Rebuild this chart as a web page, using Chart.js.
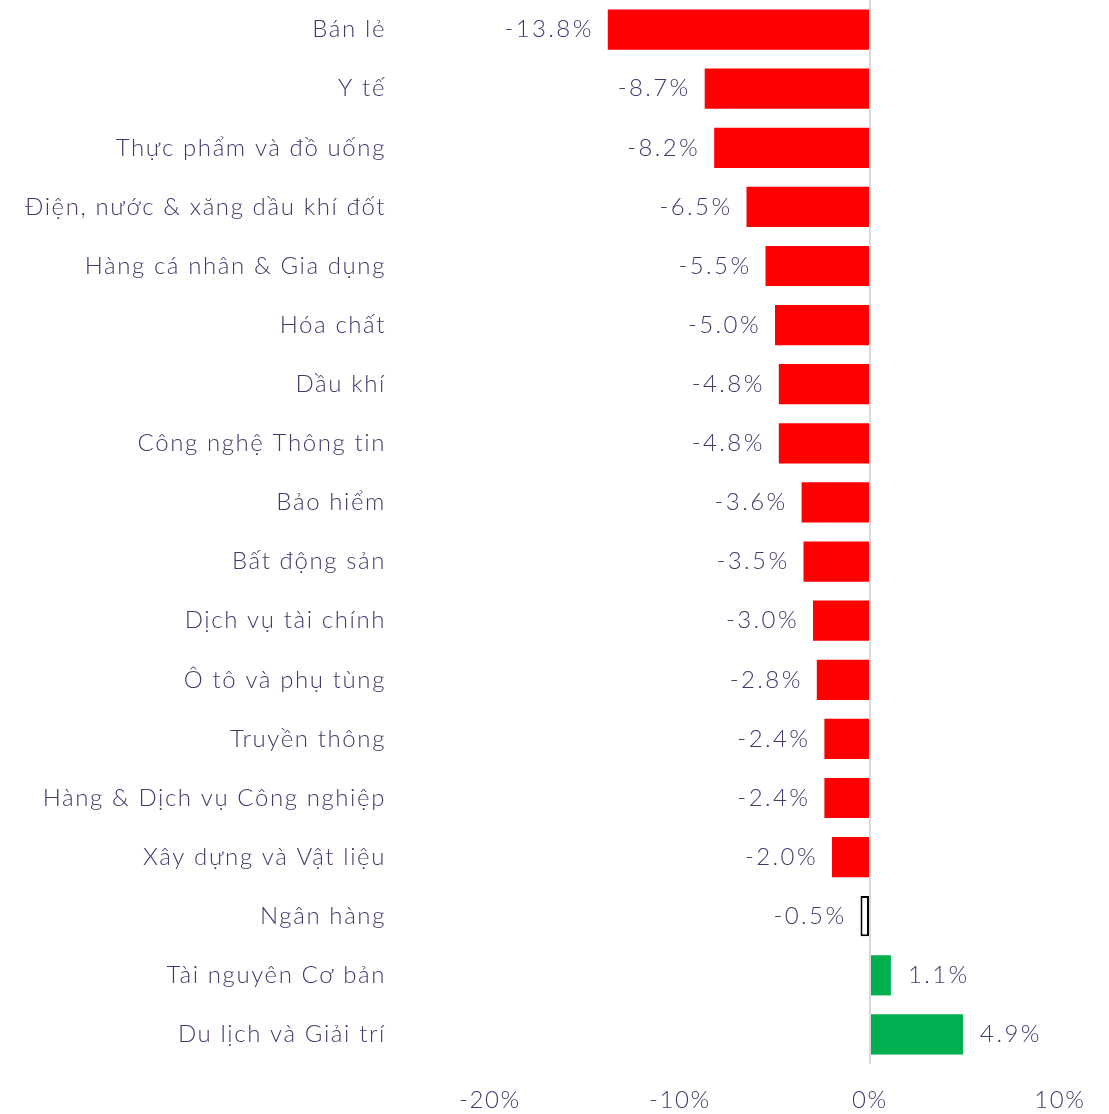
<!DOCTYPE html>
<html>
<head>
<meta charset="utf-8">
<script src="https://cdn.jsdelivr.net/npm/chart.js@4.4.1/dist/chart.umd.min.js"></script>
<style>
    body { margin: 0; background: #fff; }
    #wrap { width: 1109px; height: 1114px; position: relative; }
</style>
</head>
<body>
<div id="wrap"><canvas id="grafico"></canvas></div>
<script>
const nganh = [
    'Bán lẻ', 'Y tế', 'Thực phẩm và đồ uống', 'Điện, nước & xăng dầu khí đốt',
    'Hàng cá nhân & Gia dụng', 'Hóa chất', 'Dầu khí', 'Công nghệ Thông tin',
    'Bảo hiểm', 'Bất động sản', 'Dịch vụ tài chính', 'Ô tô và phụ tùng',
    'Truyền thông', 'Hàng & Dịch vụ Công nghiệp', 'Xây dựng và Vật liệu',
    'Ngân hàng', 'Tài nguyên Cơ bản', 'Du lịch và Giải trí'
];
const bienDong = [-13.8, -8.7, -8.2, -6.5, -5.5, -5.0, -4.8, -4.8, -3.6, -3.5, -3.0, -2.8, -2.4, -2.4, -2.0, -0.5, 1.1, 4.9];
const mocTruc = [-20, -10, 0, 10];

const corTexto = '#3f3b6c';
const corNeg = '#ff0000';
const corPos = '#00b050';

const mauCot = bienDong.map(v => v > 0 ? corPos : (v > -1 ? '#ffffff' : corNeg));
const vienCot = bienDong.map(v => (v < 0 && v > -1) ? '#000000' : 'rgba(0,0,0,0)');
const doDayVien = bienDong.map(v => (v < 0 && v > -1) ? 2 : 0);

// gian chu cho giong font goc
const gianChu = {
    id: 'gianChu',
    beforeDraw(chart) {
        chart.ctx.letterSpacing = '1.6px';
    }
};

// nhan gia tri canh cot
const nhanGiaTri = {
    id: 'nhanGiaTri',
    afterDatasetsDraw(chart) {
        const ctx = chart.ctx;
        const meta = chart.getDatasetMeta(0);
        ctx.save();
        ctx.font = '300 24px Lato';
        ctx.letterSpacing = '2.4px';
        ctx.fillStyle = corTexto;
        ctx.textBaseline = 'middle';
        meta.data.forEach((bar, i) => {
            const v = bienDong[i];
            const txt = v.toFixed(1) + '%';
            if (v < 0) {
                ctx.textAlign = 'right';
                ctx.fillText(txt, bar.x - 14, bar.y);
            } else {
                ctx.textAlign = 'left';
                ctx.fillText(txt, bar.x + 17, bar.y);
            }
        });
        ctx.restore();
    }
};

Chart.defaults.font.family = 'Lato';
Chart.defaults.font.weight = 300;
Chart.defaults.color = corTexto;

const ctx = document.getElementById('grafico').getContext('2d');
const grafico = new Chart(ctx, {
    type: 'bar',
    data: {
        labels: nganh,
        datasets: [{
            data: bienDong,
            backgroundColor: mauCot,
            borderColor: vienCot,
            borderWidth: doDayVien,
            borderSkipped: false,
            categoryPercentage: 1,
            barPercentage: 0.68
        }]
    },
    plugins: [gianChu, nhanGiaTri],
    options: {
        indexAxis: 'y',
        responsive: true,
        maintainAspectRatio: false,
        animation: false,
        layout: { padding: { top: 0, bottom: 0, left: 0, right: 49 } },
        plugins: {
            legend: { display: false },
            tooltip: { enabled: false }
        },
        scales: {
            x: {
                min: -20,
                max: 10,
                afterBuildTicks: (scale) => { scale.ticks = mocTruc.map(v => ({ value: v })); },
                afterFit: (scale) => {
                    scale.height = 50;
                    scale.paddingTop = 0;
                    scale.paddingBottom = 0;
                },
                ticks: {
                    font: { size: 24 },
                    padding: 22,
                    callback: (v) => v + '%'
                },
                grid: {
                    drawTicks: false,
                    lineWidth: 2,
                    color: (c) => c.tick && c.tick.value === 0 ? '#d9d9d9' : 'rgba(0,0,0,0)'
                },
                border: { display: false }
            },
            y: {
                afterFit: (scale) => {
                    scale.width = 490;
                    scale.paddingTop = 0;
                    scale.paddingBottom = 0;
                },
                ticks: {
                    font: { size: 24 },
                    padding: 104
                },
                grid: { display: false, drawTicks: false },
                border: { display: false }
            }
        }
    }
});
</script>
</body>
</html>
